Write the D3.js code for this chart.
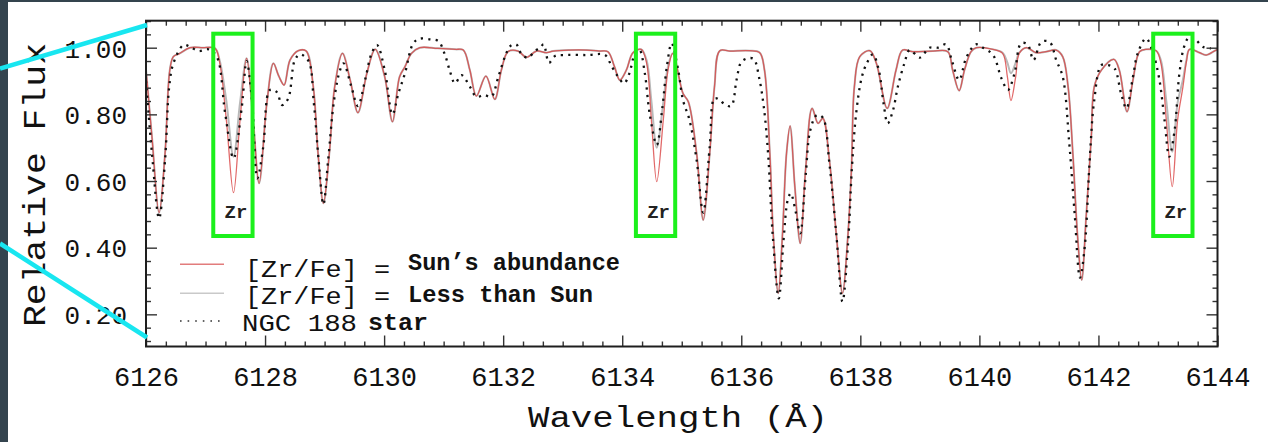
<!DOCTYPE html>
<html><head><meta charset="utf-8">
<script src="https://cdn.jsdelivr.net/npm/d3@7"></script>
<style>html,body{margin:0;padding:0;background:#fff;} svg{display:block;}</style>
</head><body>
<svg id="chart" width="1268" height="442"></svg>
<script>
// ---- data ----
const synthWave = [
  6126.00,6126.10,6126.22,6126.32,6126.40,6126.46,6126.56,6126.74,6126.95,6127.16,
  6127.24,6127.35,6127.47,6127.58,6127.69,6127.80,6127.90,6128.03,6128.14,6128.23,
  6128.32,6128.42,6128.56,6128.69,6128.81,6128.89,6128.98,6129.08,6129.17,6129.30,
  6129.43,6129.56,6129.71,6129.85,6130.01,6130.14,6130.26,6130.35,6130.46,6130.60,
  6130.90,6131.20,6131.33,6131.44,6131.55,6131.71,6131.86,6131.97,6132.08,6132.25,
  6132.39,6132.56,6132.73,6132.84,6133.12,6133.40,6133.62,6133.76,6133.87,6133.96,
  6134.07,6134.18,6134.32,6134.41,6134.49,6134.58,6134.69,6134.77,6134.85,6135.02,
  6135.11,6135.25,6135.36,6135.47,6135.55,6135.64,6135.81,6136.14,6136.31,6136.39,
  6136.48,6136.54,6136.62,6136.69,6136.76,6136.82,6136.90,6136.99,6137.08,6137.19,
  6137.29,6137.37,6137.48,6137.60,6137.70,6137.79,6137.85,6137.90,6137.99,6138.16,
  6138.27,6138.45,6138.60,6138.71,6138.88,6139.22,6139.47,6139.55,6139.66,6139.75,
  6139.86,6139.95,6140.23,6140.39,6140.47,6140.53,6140.61,6140.67,6140.79,6140.95,
  6141.12,6141.29,6141.40,6141.49,6141.57,6141.65,6141.72,6141.79,6141.88,6141.93,
  6142.05,6142.26,6142.35,6142.48,6142.58,6142.69,6142.80,6142.97,6143.05,6143.14,
  6143.24,6143.33,6143.42,6143.48,6143.53,6143.70,6143.81,6143.98,6144.00
];
const sunFlux = [
  0.935,0.733,0.505,0.683,0.933,0.973,0.982,1.000,1.000,0.998,
  0.953,0.783,0.565,0.783,0.968,0.783,0.593,0.833,0.953,0.915,
  0.888,0.963,0.991,0.990,0.883,0.683,0.533,0.683,0.883,0.983,
  0.903,0.805,0.923,0.995,0.913,0.778,0.913,0.943,0.983,1.000,
  0.998,0.995,0.993,0.933,0.855,0.915,0.845,0.933,0.988,0.990,
  0.971,0.990,0.985,0.990,0.993,0.993,0.990,0.988,0.943,0.903,
  0.933,0.985,0.995,0.953,0.783,0.598,0.783,0.933,0.983,0.863,
  0.838,0.683,0.483,0.683,0.883,0.991,0.990,0.991,0.985,0.933,
  0.683,0.433,0.263,0.433,0.683,0.765,0.583,0.413,0.633,0.818,
  0.773,0.788,0.663,0.433,0.263,0.433,0.633,0.883,0.973,0.991,
  0.953,0.818,0.933,0.993,0.988,0.990,0.988,0.933,0.871,0.933,
  0.988,1.000,0.995,0.983,0.913,0.841,0.913,0.983,1.000,0.985,
  0.988,0.993,0.973,0.883,0.683,0.433,0.303,0.483,0.733,0.883,
  0.933,0.965,0.933,0.808,0.903,0.988,0.995,0.991,0.953,0.783,
  0.583,0.783,0.883,0.960,0.995,0.985,0.978,0.993,0.993
];
const lowFlux = [
  0.935,0.733,0.505,0.683,0.933,0.973,0.982,1.000,1.000,0.998,
  0.960,0.840,0.673,0.835,0.968,0.783,0.593,0.833,0.953,0.915,
  0.888,0.963,0.991,0.990,0.883,0.683,0.533,0.683,0.883,0.983,
  0.903,0.805,0.923,0.995,0.913,0.778,0.913,0.943,0.983,1.000,
  0.998,0.995,0.993,0.933,0.855,0.915,0.845,0.933,0.988,0.990,
  0.971,0.990,0.985,0.990,0.993,0.993,0.990,0.988,0.943,0.903,
  0.933,0.985,0.995,0.962,0.840,0.700,0.835,0.945,0.983,0.863,
  0.838,0.683,0.483,0.683,0.883,0.991,0.990,0.991,0.985,0.933,
  0.683,0.433,0.263,0.433,0.683,0.765,0.583,0.413,0.633,0.818,
  0.773,0.788,0.663,0.433,0.263,0.433,0.633,0.883,0.973,0.991,
  0.953,0.818,0.933,0.993,0.988,0.990,0.988,0.933,0.871,0.933,
  0.988,1.000,0.995,0.985,0.955,0.923,0.955,0.985,1.000,0.985,
  0.988,0.993,0.973,0.883,0.683,0.433,0.303,0.483,0.733,0.883,
  0.933,0.965,0.933,0.808,0.903,0.988,0.995,0.991,0.962,0.840,
  0.688,0.835,0.905,0.965,0.995,0.985,0.978,0.993,0.993
];
const obsWave = [
  6126.00,6126.10,6126.22,6126.32,6126.39,6126.46,6126.63,6126.74,6126.88,6127.05,
  6127.19,6127.33,6127.47,6127.61,6127.69,6127.78,6127.87,6127.97,6128.08,6128.19,
  6128.29,6128.39,6128.50,6128.59,6128.73,6128.82,6128.90,6128.98,6129.06,6129.16,
  6129.26,6129.32,6129.45,6129.56,6129.68,6129.79,6129.88,6130.01,6130.14,6130.24,
  6130.35,6130.49,6130.60,6130.77,6130.91,6131.02,6131.10,6131.19,6131.30,6131.44,
  6131.55,6131.68,6131.80,6131.92,6132.03,6132.12,6132.22,6132.31,6132.42,6132.53,
  6132.62,6132.68,6132.77,6132.87,6133.01,6133.40,6133.71,6133.82,6133.93,6134.03,
  6134.12,6134.21,6134.29,6134.38,6134.46,6134.58,6134.67,6134.75,6134.83,6134.94,
  6135.02,6135.13,6135.25,6135.36,6135.47,6135.55,6135.64,6135.72,6135.83,6135.92,
  6136.00,6136.11,6136.21,6136.30,6136.38,6136.45,6136.53,6136.63,6136.71,6136.78,
  6136.83,6136.92,6136.99,6137.08,6137.16,6137.27,6137.37,6137.48,6137.60,6137.70,
  6137.79,6137.86,6137.93,6138.02,6138.10,6138.21,6138.31,6138.39,6138.46,6138.55,
  6138.63,6138.74,6138.83,6139.00,6139.16,6139.30,6139.44,6139.54,6139.66,6139.78,
  6139.94,6140.06,6140.23,6140.37,6140.48,6140.59,6140.70,6140.81,6140.91,6141.04,
  6141.18,6141.29,6141.40,6141.51,6141.60,6141.69,6141.77,6141.85,6141.93,6142.05,
  6142.16,6142.27,6142.38,6142.47,6142.58,6142.66,6142.80,6142.91,6143.02,6143.11,
  6143.19,6143.28,6143.36,6143.44,6143.53,6143.64,6143.75,6143.89
];
const obsFlux = [
  0.900,0.683,0.488,0.663,0.883,0.953,1.008,1.003,0.990,0.995,
  0.973,0.803,0.668,0.823,0.960,0.843,0.608,0.703,0.873,0.868,
  0.828,0.848,0.963,0.980,0.960,0.833,0.663,0.530,0.663,0.843,
  0.933,0.953,0.883,0.825,0.903,0.983,1.008,0.933,0.800,0.863,
  0.923,1.013,1.027,1.025,1.020,0.980,0.933,0.893,0.918,0.883,
  0.853,0.858,0.853,0.913,0.973,1.005,1.010,0.980,0.970,0.990,
  1.000,1.010,0.955,0.975,0.978,0.978,0.978,0.945,0.913,0.893,
  0.923,0.980,0.993,0.923,0.803,0.708,0.813,0.943,1.013,0.933,
  0.843,0.783,0.663,0.505,0.703,0.848,0.843,0.830,0.825,0.903,
  0.957,0.968,0.966,0.910,0.820,0.683,0.433,0.248,0.423,0.543,
  0.563,0.503,0.443,0.613,0.753,0.798,0.790,0.653,0.433,0.238,
  0.403,0.643,0.803,0.908,0.950,0.980,0.933,0.833,0.773,0.813,
  0.883,0.953,0.993,0.970,1.000,1.000,1.010,0.960,0.903,0.970,
  1.010,1.000,0.978,0.908,0.873,0.923,1.013,1.010,0.963,1.017,
  1.017,0.963,0.913,0.713,0.503,0.310,0.403,0.653,0.843,0.948,
  0.948,0.938,0.863,0.818,0.913,0.983,1.028,0.988,0.908,0.783,
  0.673,0.753,0.923,1.003,1.033,1.023,1.003,0.998
];
const xTickValues = [6126, 6128, 6130, 6132, 6134, 6136, 6138, 6140, 6142, 6144];
const yTickValues = [0.20, 0.40, 0.60, 0.80, 1.00];
const zrLines = [6127.46, 6134.56, 6143.25];
const zrLabel = "Zr";
const legendLeft = ["[Zr/Fe] =", "[Zr/Fe] =", "NGC 188"];
const legendRight = ["Sun\u2019s abundance", "Less than Sun", "star"];
const xTitle = "Wavelength (\u00C5)";
const yTitle = "Relative Flux";

// ---- drawing ----
const W = 1268, H = 442;
const MONO = "'Courier New', 'Liberation Mono', monospace";
const plot = {left: 146, right: 1217.5, top: 20.7, bottom: 346.5};
const x = d3.scaleLinear().domain([6126, 6144]).range([plot.left, plot.right]);
const y = d3.scaleLinear().domain([0.1035, 1.081]).range([plot.bottom, plot.top]);

const svg = d3.select("#chart");
svg.append("rect").attr("width", W).attr("height", H).attr("fill", "#ffffff");
svg.append("rect").attr("x", 0).attr("y", 0).attr("width", 8).attr("height", H).attr("fill", "#34444e");
svg.append("rect").attr("x", 0).attr("y", 0).attr("width", W).attr("height", 2).attr("fill", "#34444e");

svg.append("defs").append("clipPath").attr("id", "clip")
  .append("rect").attr("x", plot.left).attr("y", plot.top)
  .attr("width", plot.right - plot.left).attr("height", plot.bottom - plot.top);

// spectra
const line = d3.line().x(d => x(d[0])).y(d => y(d[1])).curve(d3.curveCatmullRom.alpha(0.5));
const sunPts = synthWave.map((w, i) => [w, sunFlux[i]]);
const lowPts = synthWave.map((w, i) => [w, lowFlux[i]]);
const obsPts = obsWave.map((w, i) => [w, obsFlux[i]]);
const lines = svg.append("g").attr("clip-path", "url(#clip)");
lines.append("path").attr("d", line(lowPts)).attr("fill", "none")
  .attr("stroke", "#b9b9b9").attr("stroke-width", 2);
lines.append("path").attr("d", line(sunPts)).attr("fill", "none")
  .attr("stroke", "#da4444").attr("stroke-width", 1.3).attr("stroke-opacity", 0.8);
lines.append("path").attr("d", line(obsPts)).attr("fill", "none")
  .attr("stroke", "#111").attr("stroke-width", 2.3).attr("stroke-dasharray", "2.2,5.2");

// axes
const xMinor = d3.range(0, 55).filter(k => k % 6 !== 0).map(k => 6126 + k / 3);
const yMinor = d3.range(3, 28).filter(k => k % 5 !== 0).map(k => k * 0.04);
function styleAxis(g) {
  g.select(".domain").remove();
  g.selectAll(".tick line").attr("stroke", "#333").attr("stroke-width", 1.4);
}
function addAxis(axis, tx, ty) {
  return svg.append("g").attr("transform", `translate(${tx},${ty})`).call(axis).call(styleAxis);
}
const gx = addAxis(d3.axisBottom(x).tickValues(xTickValues).tickSize(-11).tickPadding(0).tickFormat(d3.format("d")), 0, plot.bottom);
gx.selectAll("text").attr("y", 39.5).attr("dy", null)
  .attr("font-family", MONO).attr("font-size", 27).attr("fill", "#111");
addAxis(d3.axisBottom(x).tickValues(xMinor).tickSize(-5).tickFormat(""), 0, plot.bottom);
addAxis(d3.axisTop(x).tickValues(xTickValues).tickSize(-11).tickFormat(""), 0, plot.top);
addAxis(d3.axisTop(x).tickValues(xMinor).tickSize(-5).tickFormat(""), 0, plot.top);
const gy = addAxis(d3.axisLeft(y).tickValues(yTickValues).tickSize(-11).tickPadding(0).tickFormat(d3.format(".2f")), plot.left, 0);
gy.selectAll("text").attr("x", -19).attr("y", 9.3).attr("dy", null)
  .attr("font-family", MONO).attr("font-size", 26).attr("fill", "#111");
addAxis(d3.axisLeft(y).tickValues(yMinor).tickSize(-5).tickFormat(""), plot.left, 0);
addAxis(d3.axisRight(y).tickValues(yTickValues).tickSize(-11).tickFormat(""), plot.right, 0);
addAxis(d3.axisRight(y).tickValues(yMinor).tickSize(-5).tickFormat(""), plot.right, 0);

// frame
svg.append("rect").attr("x", plot.left).attr("y", plot.top)
  .attr("width", plot.right - plot.left).attr("height", plot.bottom - plot.top)
  .attr("fill", "none").attr("stroke", "#1e1e1e").attr("stroke-width", 2);

// titles
svg.append("text").attr("x", 678).attr("y", 427).attr("text-anchor", "middle")
  .attr("font-family", MONO).attr("font-size", 30).attr("fill", "#111")
  .attr("textLength", 300).attr("lengthAdjust", "spacingAndGlyphs").text(xTitle);
svg.append("text").attr("transform", "translate(45,185) rotate(-90)").attr("text-anchor", "middle")
  .attr("font-family", MONO).attr("font-size", 31).attr("fill", "#111")
  .attr("textLength", 284).attr("lengthAdjust", "spacingAndGlyphs").text(yTitle);

// legend
const legendRows = [0, 1, 2];
const sampleY = [264.3, 293.3, 321];
const sampleStyle = [
  {stroke: "#e27c7c", width: 1.6, dash: null},
  {stroke: "#c9c9c9", width: 1.6, dash: null},
  {stroke: "#333", width: 1.6, dash: "1.6,6"}
];
legendRows.forEach(i => {
  svg.append("line").attr("x1", 180).attr("x2", 224).attr("y1", sampleY[i]).attr("y2", sampleY[i])
    .attr("stroke", sampleStyle[i].stroke).attr("stroke-width", sampleStyle[i].width)
    .attr("stroke-dasharray", sampleStyle[i].dash);
});
// [x, baseline, font-size, width]
const leftPos = [[245, 276.5, 23.5, 145], [245, 303.5, 23.5, 145], [242, 331, 24, 115]];
const rightPos = [[408, 270, 23.5, 212], [408, 301.5, 23, 185], [368, 329.5, 24, 60]];
legendRows.forEach(i => {
  svg.append("text").attr("x", leftPos[i][0]).attr("y", leftPos[i][1])
    .attr("font-family", MONO).attr("font-size", leftPos[i][2]).attr("fill", "#111")
    .attr("textLength", leftPos[i][3]).attr("lengthAdjust", "spacingAndGlyphs")
    .text(legendLeft[i]);
  svg.append("text").attr("x", rightPos[i][0]).attr("y", rightPos[i][1])
    .attr("font-family", MONO).attr("font-weight", "bold").attr("font-size", rightPos[i][2]).attr("fill", "#111")
    .attr("textLength", rightPos[i][3]).attr("lengthAdjust", "spacingAndGlyphs")
    .text(legendRight[i]);
});

// Zr highlight boxes
const boxHalf = 0.33;
zrLines.forEach(w => {
  svg.append("rect").attr("x", x(w - boxHalf)).attr("y", y(1.042))
    .attr("width", x(w + boxHalf) - x(w - boxHalf)).attr("height", y(0.435) - y(1.042))
    .attr("fill", "none").attr("stroke", "#1cf01c").attr("stroke-width", 4);
  svg.append("text").attr("x", x(w) + 3).attr("y", y(0.488)).attr("text-anchor", "middle")
    .attr("font-family", MONO).attr("font-weight", "bold").attr("font-size", 19).attr("fill", "#222")
    .text(zrLabel);
});

// cyan zoom connectors
svg.append("line").attr("x1", 0).attr("y1", 68.5).attr("x2", 147).attr("y2", 25)
  .attr("stroke", "#18e6f0").attr("stroke-width", 4.5);
svg.append("line").attr("x1", 0).attr("y1", 243.5).attr("x2", 147).attr("y2", 337.5)
  .attr("stroke", "#18e6f0").attr("stroke-width", 4.5);
</script>
</body></html>
